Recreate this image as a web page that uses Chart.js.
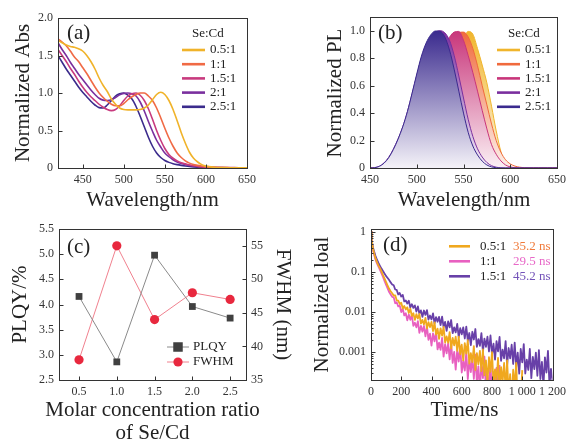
<!DOCTYPE html>
<html><head><meta charset="utf-8">
<script src="https://cdn.jsdelivr.net/npm/chart.js@4.4.1/dist/chart.umd.min.js"></script>
<style>
html,body{margin:0;padding:0;background:#fff;}
#wrap{position:relative;width:571px;height:443px;overflow:hidden;background:#fff;}
canvas{position:absolute;left:0;top:0;}
</style></head><body>
<div id="wrap">
<canvas id="cA" width="571" height="443"></canvas>
<canvas id="cB" width="571" height="443"></canvas>
<canvas id="cC" width="571" height="443"></canvas>
<canvas id="cD" width="571" height="443"></canvas>
</div>
<script>
// ---------------- DATA ----------------
const seriesNames = ['0.5:1','1:1','1.5:1','2:1','2.5:1'];
const legendTitle = 'Se:Cd';

// (a) absorption
const absWavelengths = [420,425,430,435,440,445,450,455,460,465,470,475,480,485,490,495,500,505,510,515,520,525,530,535,540,545,550,555,560,565,570,575,580,585,590,595,600,610,620,630,640,650];
const abs05 = [1.70,1.67,1.64,1.62,1.61,1.59,1.56,1.50,1.42,1.32,1.20,1.10,1.02,0.92,0.85,0.80,0.78,0.775,0.775,0.775,0.78,0.80,0.84,0.91,0.98,1.01,0.98,0.90,0.78,0.63,0.47,0.33,0.21,0.13,0.08,0.045,0.025,0.01,0.005,0.003,0.002,0.001];
const abs10 = [1.72,1.68,1.63,1.56,1.48,1.42,1.34,1.26,1.17,1.08,1.00,0.94,0.89,0.85,0.83,0.83,0.86,0.91,0.95,0.98,1.00,1.00,0.96,0.90,0.80,0.67,0.53,0.40,0.29,0.20,0.14,0.095,0.065,0.045,0.035,0.025,0.018,0.01,0.006,0.004,0.002,0.001];
const abs15 = [1.58,1.50,1.42,1.33,1.25,1.16,1.08,1.01,0.95,0.90,0.85,0.81,0.78,0.765,0.78,0.83,0.90,0.96,0.99,1.00,0.97,0.90,0.79,0.65,0.50,0.37,0.26,0.18,0.13,0.095,0.07,0.055,0.04,0.03,0.022,0.016,0.012,0.008,0.006,0.005,0.004,0.003];
const abs20 = [1.67,1.58,1.50,1.41,1.33,1.25,1.18,1.11,1.04,0.98,0.93,0.905,0.90,0.91,0.94,0.975,0.995,1.00,0.99,0.96,0.88,0.76,0.62,0.49,0.37,0.28,0.20,0.15,0.11,0.08,0.06,0.045,0.035,0.027,0.02,0.015,0.011,0.007,0.005,0.004,0.003,0.002];
const abs25 = [1.50,1.41,1.32,1.24,1.16,1.08,1.01,0.95,0.89,0.84,0.805,0.80,0.84,0.90,0.96,0.99,1.00,0.97,0.92,0.82,0.69,0.55,0.41,0.29,0.20,0.14,0.10,0.075,0.058,0.045,0.035,0.027,0.02,0.015,0.011,0.008,0.006,0.004,0.003,0.002,0.002,0.001];
const absXTicks = [450,500,550,600,650];
const absXTickLabels = ['450','500','550','600','650'];
const absYTicks = [0,0.5,1.0,1.5,2.0];
const absYTickLabels = ['0','0.5','1.0','1.5','2.0'];

// (b) photoluminescence
const plWavelengths = [450,455,460,465,470,475,480,485,490,495,500,505,510,515,520,525,530,535,540,545,550,555,560,565,570,575,580,585,590,595,600,605,610,615,620,625,630,635,640,645,650];
const pl05 = [0,0,0,0,0, 0,0,0,0,0, 0,0,0,0.012,0.045, 0.11,0.23,0.40,0.60,0.80, 0.93,0.995,0.975,0.87,0.75, 0.62,0.45,0.27,0.12,0.035, 0.01,0.002,0,0,0, 0,0,0,0,0,0];
const pl10 = [0,0,0,0,0, 0,0.001,0.008,0.026,0.059, 0.111,0.18,0.264,0.366,0.491, 0.629,0.763,0.87,0.946,0.987, 0.99,0.955,0.87,0.745,0.60, 0.46,0.32,0.20,0.115,0.06, 0.03,0.014,0.006,0.002,0, 0,0,0,0,0,0];
const pl15 = [0,0,0,0,0, 0.001,0.009,0.028,0.063,0.117, 0.187,0.273,0.377,0.505,0.643, 0.776,0.88,0.952,0.99,0.995, 0.93,0.82,0.695,0.56,0.42, 0.285,0.17,0.10,0.052,0.022, 0.008,0.002,0,0,0, 0,0,0,0,0,0];
const pl20 = [0,0.003,0.013,0.037,0.078, 0.138,0.212,0.30,0.41,0.54, 0.675,0.80,0.895,0.955,0.99, 1.00,0.985,0.93,0.82,0.67, 0.51,0.355,0.23,0.14,0.08, 0.04,0.017,0.006,0.001,0, 0,0,0,0,0, 0,0,0,0,0,0];
const pl25 = [0,0.002,0.012,0.035,0.075, 0.135,0.21,0.30,0.41,0.545, 0.685,0.815,0.91,0.97,0.998, 0.995,0.955,0.86,0.72,0.56, 0.40,0.26,0.16,0.095,0.05, 0.022,0.008,0.002,0,0, 0,0,0,0,0, 0,0,0,0,0,0];
const plXTicks = [450,500,550,600,650];
const plXTickLabels = ['450','500','550','600','650'];
const plYTicks = [0,0.2,0.4,0.6,0.8,1.0];
const plYTickLabels = ['0','0.2','0.4','0.6','0.8','1.0'];

// (c) PLQY and FWHM
const ratios = [0.5,1.0,1.5,2.0,2.5];
const plqy = [4.16,2.86,4.98,3.96,3.73];
const fwhm = [38,55,44,48,47];
const ratioTicks = [0.5,1.0,1.5,2.0,2.5];
const ratioTickLabels = ['0.5','1.0','1.5','2.0','2.5'];
const plqyTicks = [2.5,3.0,3.5,4.0,4.5,5.0,5.5];
const plqyTickLabels = ['2.5','3.0','3.5','4.0','4.5','5.0','5.5'];
const fwhmTicks = [35,40,45,50,55];
const fwhmTickLabels = ['35','40','45','50','55'];
const qyNames = ['PLQY','FWHM'];

// (d) decay
const decayTimes = [0,5,10,15,20,30,40,50,60,70,80,90,100,110,120,130,140,150,160,170,180,190,200,210,220,230,240,250,260,270,280,290,300,310,320,330,340,350,360,370,380,390,400,410,420,430,440,450,460,470,480,490,500,510,520,530,540,550,560,570,580,590,600,610,620,630,640,650,660,670,680,690,700,710,720,730,740,750,760,770,780,790,800,810,820,830,840,850,860,870,880,890,900,910,920,930,940,950,960,970,980,990,1000,1010,1020,1030,1040,1050,1060,1070,1080,1090,1100,1110,1120,1130,1140,1150,1160,1170,1180,1190,1200];
const decay05 = [1,0.6,0.447,0.355,0.295,0.219,0.174,0.145,0.123,0.102,0.083,0.068,0.056,0.046,0.038,0.033,0.0295,
0.0259,0.0262,0.0197,0.0193,0.0159,0.017,0.0122,0.0141,0.0116,0.0131,0.00948,0.0121,0.00798,0.00935,0.00635,0.00885,
0.00687,0.00895,0.00512,0.00635,0.00492,0.00713,0.00388,0.00562,0.0042,0.00565,0.00332,0.00553,0.00274,0.00384,0.00212,0.00392,
0.00258,0.00425,0.00173,0.00246,0.00171,0.00314,0.00122,0.00225,0.00147,0.00241,0.00107,0.00242,0.000879,0.00152,0.000617,0.00167,
0.000914,0.00197,0.000513,0.000938,0.000557,0.00141,0.000355,0.000935,0.000492,0.00107,0.000334,0.00116,0.000261,0.000617,0.000171,0.000741,
0.00032,0.001,0.000158,0.000367,0.000187,0.00071,0.000106,0.000419,0.000179,0.000533,0.000114,0.000618,0.0000887,0.00028,0.0000542,0.000361,
0.00013,0.000538,0.0000541,0.00016,0.0000695,0.000353,
null,null,null,null,null,null,null,null,null,null,null,null,null,null,null,null,null,null,null,null];
const decay10 = [1,0.575,0.417,0.331,0.275,0.204,0.162,0.135,0.112,0.091,0.074,0.059,0.048,0.039,0.0316,0.0275,0.024,
0.0233,0.0166,0.0175,0.0138,0.0145,0.01,0.0122,0.00822,0.00933,0.00622,0.00865,0.0064,0.00841,0.00452,0.00542,0.00415,
0.00589,0.00301,0.00452,0.00323,0.0045,0.00246,0.00437,0.00201,0.00288,0.00145,0.00294,0.00185,0.00321,0.00116,0.00171,0.00114,
0.00225,0.000771,0.00157,0.000929,0.00164,0.000656,0.00168,0.000533,0.00101,0.000363,0.00114,0.000579,0.00139,0.000308,0.000611,0.000344,
0.000979,0.000211,0.000641,0.000316,0.000769,0.000214,0.000855,0.000169,0.000439,0.000108,0.000542,0.000222,0.000762,0.000101,0.000262,0.000124,
0.000528,0.000069,0.000308,0.000124,0.000403,0.0000766,0.000475,
null,null,null,null,null,null,null,null,null,null,null,null,null,null,null,null,null,null,null,null,null,null,null,null,null,null,null,null,null,null,null,null,null,null,null];
const decay15 = [1,0.63,0.48,0.39,0.33,0.25,0.2,0.166,0.141,0.12,0.105,0.091,0.079,0.071,0.063,0.055,0.049,
0.0467,0.0366,0.0357,0.0275,0.0299,0.0244,0.0267,0.0184,0.0194,0.0163,0.0192,0.013,0.0157,0.0127,0.0147,0.0103,
0.0138,0.00908,0.011,0.0076,0.0109,0.00847,0.0112,0.00649,0.00818,0.00655,0.00925,0.00522,0.00748,0.00573,0.0076,0.0047,
0.00769,0.0042,0.0057,0.00339,0.00586,0.00413,0.00631,0.00296,0.00415,0.00309,0.00508,0.00237,0.00394,0.00277,0.00415,0.00218,
0.00433,0.00192,0.00299,0.00148,0.00321,0.00206,0.00376,0.00134,0.00211,0.00143,0.00297,0.00104,0.00217,0.00135,0.00241,0.00103,
0.00259,0.000867,0.00161,0.000647,0.00188,0.00104,0.00238,0.000605,0.00115,0.000698,0.00187,0.000468,0.00126,0.000697,0.00152,0.000502,
0.00172,0.000413,0.000966,0.000289,0.00119,0.00055,0.00158,0.000291,0.000649,0.000356,0.00119,0.000223,0.00076,0.000372,0.000968,0.000255,
0.00112,0.000212,0.00057,0.000143,0.000736,0.000307,0.00107,0.000149,0.000378,0.000191];
const decayNames = ['0.5:1','1:1','1.5:1'];
const decayLifetimes = ['35.2 ns','29.5 ns','45.2 ns'];
const decayXTicks = [0,200,400,600,800,1000,1200];
const decayXTickLabels = ['0','200','400','600','800','1 000','1 200'];
const decayYTicks = [1,0.1,0.01,0.001];
const decayYTickLabels = ['1','0.1','0.01','0.001'];
const decayYMinorTicks = [0.0003,0.0004,0.0005,0.0006,0.0007,0.0008,0.0009,0.002,0.003,0.004,0.005,0.006,0.007,0.008,0.009,0.02,0.03,0.04,0.05,0.06,0.07,0.08,0.09,0.2,0.3,0.4,0.5,0.6,0.7,0.8,0.9];

// ---------------- STYLE ----------------
const SERIF = '"Liberation Serif","Times New Roman",serif';
Chart.defaults.font.family = SERIF;
Chart.defaults.color = '#333';
const W = 571, H = 443;
const TXT = '#222';
const absColors = ['#f0b32a','#f06a45','#c83a7e','#7a2f9e','#3b2b8c'];
const plColors  = ['#f0b52c','#f06a3c','#c8357a','#7a2e9e','#3a2a8e'];
const plLight   = ['#fdf6e4','#fdf0ea','#fbf0f4','#f6f0f8','#f4f2f8'];
const decayColors = ['#f0a81e','#e860c0','#6840a8'];
const decayLifeColors = ['#f07a3a','#e868c8','#7352b8'];

// ---------------- PLUGINS ----------------
const framePlugin = {
  id: 'frameTicks',
  afterDatasetsDraw(chart, args, opts) {
    const ctx = chart.ctx, a = chart.chartArea;
    ctx.save();
    ctx.strokeStyle = '#333';
    ctx.lineWidth = 1;
    const l = Math.round(a.left) + 0.5, t = Math.round(a.top) + 0.5;
    const r = Math.round(a.right) + 0.5, b = Math.round(a.bottom) + 0.5;
    ctx.strokeRect(l, t, r - l, b - t);
    (opts.axes || []).forEach(ax => {
      const s = chart.scales[ax.id];
      const draw = (v, len) => {
        const p = Math.round(s.getPixelForValue(v)) + 0.5;
        ctx.beginPath();
        if (ax.side === 'bottom') { ctx.moveTo(p, b); ctx.lineTo(p, b - len); }
        else if (ax.side === 'left') { ctx.moveTo(l, p); ctx.lineTo(l + len, p); }
        else { ctx.moveTo(r, p); ctx.lineTo(r - len, p); }
        ctx.stroke();
      };
      s.ticks.forEach(tk => draw(tk.value, 4));
      (ax.minor || []).forEach(v => draw(v, 2));
    });
    ctx.restore();
  }
};
const overlayPlugin = {
  id: 'overlay',
  afterDraw(chart, args, opts) {
    const ctx = chart.ctx;
    (opts.items || []).forEach(it => {
      ctx.save();
      if (it.type === 'text') {
        ctx.font = it.font; ctx.fillStyle = it.color || TXT;
        ctx.textAlign = it.align || 'left'; ctx.textBaseline = 'middle';
        ctx.translate(it.x, it.y); if (it.rot) ctx.rotate(it.rot);
        ctx.fillText(it.text, 0, 0);
      } else if (it.type === 'line') {
        ctx.strokeStyle = it.color; ctx.lineWidth = it.width;
        ctx.beginPath(); ctx.moveTo(it.x1, it.y); ctx.lineTo(it.x2, it.y); ctx.stroke();
      } else if (it.type === 'square') {
        ctx.fillStyle = it.color; ctx.fillRect(it.x - it.s/2, it.y - it.s/2, it.s, it.s);
      } else if (it.type === 'circle') {
        ctx.fillStyle = it.color; ctx.beginPath(); ctx.arc(it.x, it.y, it.r, 0, Math.PI*2); ctx.fill();
      }
      ctx.restore();
    });
  }
};

const F_TITLE = '21px ' + SERIF;
const F_LEG = '13px ' + SERIF;
const F_PANEL = '21px ' + SERIF;
const YW = 45, XH = 25;

function pad(l, t, r, b, rightW) {
  return {padding: {left: l - YW, top: t, right: W - r - (rightW || 0), bottom: H - b - XH}};
}
function xAxis(min, max, ticks, labels, type) {
  return {
    type: type || 'linear', min, max, position: 'bottom',
    grid: {display: false, drawTicks: false}, border: {display: false},
    ticks: {padding: 5, maxRotation: 0, autoSkip: false, font: {size: 12}, color: '#333',
      callback: (v, i) => labels[i]},
    afterBuildTicks: s => { s.ticks = ticks.map(v => ({value: v})); },
    afterFit: s => { s.height = XH; }
  };
}
function yAxis(min, max, ticks, labels, type, position, width) {
  return {
    type: type || 'linear', min, max, position: position || 'left',
    grid: {display: false, drawTicks: false}, border: {display: false},
    ticks: {padding: 5, autoSkip: false, font: {size: 12}, color: '#333',
      callback: (v, i) => labels[i]},
    afterBuildTicks: s => { s.ticks = ticks.map(v => ({value: v})); },
    afterFit: s => { s.width = width || YW; }
  };
}
function legendBlock(x0, lineX1, lineX2, textX, titleY, rowsY, colors) {
  const items = [{type: 'text', text: legendTitle, x: x0, y: titleY, font: F_LEG}];
  seriesNames.forEach((n, i) => {
    items.push({type: 'line', x1: lineX1, x2: lineX2, y: rowsY[i], color: colors[i], width: 2.6});
    items.push({type: 'text', text: n, x: textX, y: rowsY[i], font: F_LEG});
  });
  return items;
}
const common = {responsive: false, animation: false, devicePixelRatio: 1, events: []};

// ---------------- (a) ----------------
const absVals = [abs05, abs10, abs15, abs20, abs25];
new Chart(document.getElementById('cA'), {
  type: 'line',
  data: {datasets: absVals.map((vals, k) => ({
    label: seriesNames[k],
    data: absWavelengths.map((x, i) => ({x, y: vals[i]})),
    borderColor: absColors[k], borderWidth: 1.6, pointRadius: 0, fill: false,
    cubicInterpolationMode: 'monotone'
  }))},
  options: Object.assign({}, common, {
    layout: pad(58, 18, 247, 168),
    scales: {x: xAxis(420, 650, absXTicks, absXTickLabels), y: yAxis(0, 2.0, absYTicks, absYTickLabels)},
    plugins: {
      legend: {display: false}, tooltip: {enabled: false},
      frameTicks: {axes: [{id: 'x', side: 'bottom'}, {id: 'y', side: 'left'}]},
      overlay: {items: [
        {type: 'text', text: '(a)', x: 67, y: 33, font: F_PANEL},
        {type: 'text', text: 'Normalized Abs', x: 23, y: 93, rot: -Math.PI/2, align: 'center', font: F_TITLE},
        {type: 'text', text: 'Wavelength/nm', x: 152.5, y: 200, align: 'center', font: F_TITLE}
      ].concat(legendBlock(192, 182, 205, 210, 34, [50, 64.2, 78.4, 92.6, 106.8], absColors))}
    }
  }),
  plugins: [framePlugin, overlayPlugin]
});

// ---------------- (b) ----------------
const plVals = [pl05, pl10, pl15, pl20, pl25];
function plGrad(k) {
  return (c) => {
    const ch = c.chart, ys = ch.scales.y;
    if (!ch.chartArea || !ys) return plColors[k];
    const g = ch.ctx.createLinearGradient(0, ys.getPixelForValue(1), 0, ys.getPixelForValue(0));
    g.addColorStop(0, plColors[k]); g.addColorStop(1, plLight[k]);
    return g;
  };
}
new Chart(document.getElementById('cB'), {
  type: 'line',
  data: {datasets: plVals.map((vals, k) => ({
    label: seriesNames[k],
    data: plWavelengths.map((x, i) => ({x, y: vals[i]})),
    borderColor: plColors[k], borderWidth: 1, pointRadius: 0,
    fill: 'origin', backgroundColor: plGrad(k), order: 4 - k,
    cubicInterpolationMode: 'monotone'
  }))},
  options: Object.assign({}, common, {
    layout: pad(370, 17, 558, 168),
    scales: {x: xAxis(450, 650, plXTicks, plXTickLabels), y: yAxis(0, 1.1, plYTicks, plYTickLabels)},
    plugins: {
      legend: {display: false}, tooltip: {enabled: false},
      filler: {drawTime: 'beforeDatasetDraw'},
      frameTicks: {axes: [{id: 'x', side: 'bottom'}, {id: 'y', side: 'left'}]},
      overlay: {items: [
        {type: 'text', text: '(b)', x: 378, y: 33, font: F_PANEL},
        {type: 'text', text: 'Normalized PL', x: 335, y: 93, rot: -Math.PI/2, align: 'center', font: F_TITLE},
        {type: 'text', text: 'Wavelength/nm', x: 464, y: 200, align: 'center', font: F_TITLE}
      ].concat(legendBlock(508, 497, 520, 525, 34, [50, 64.2, 78.4, 92.6, 106.8], plColors))}
    }
  }),
  plugins: [framePlugin, overlayPlugin]
});

// ---------------- (c) ----------------
new Chart(document.getElementById('cC'), {
  type: 'line',
  data: {datasets: [
    {label: qyNames[0], yAxisID: 'y', data: ratios.map((x, i) => ({x, y: plqy[i]})),
     borderColor: '#8a8a8a', borderWidth: 1, pointStyle: 'rect', pointRadius: 4.8,
     pointBackgroundColor: '#404040', pointBorderColor: '#404040', pointBorderWidth: 0, tension: 0},
    {label: qyNames[1], yAxisID: 'y1', data: ratios.map((x, i) => ({x, y: fwhm[i]})),
     borderColor: '#f0808e', borderWidth: 1, pointStyle: 'circle', pointRadius: 4.6,
     pointBackgroundColor: '#e8283e', pointBorderColor: '#e8283e', pointBorderWidth: 0, tension: 0}
  ]},
  options: Object.assign({}, common, {
    layout: pad(59, 229, 246, 380, 30),
    scales: {
      x: xAxis(0.235, 2.71, ratioTicks, ratioTickLabels),
      y: yAxis(2.5, 5.5, plqyTicks, plqyTickLabels),
      y1: yAxis(35, 57.5, fwhmTicks, fwhmTickLabels, 'linear', 'right', 30)
    },
    plugins: {
      legend: {display: false}, tooltip: {enabled: false},
      frameTicks: {axes: [{id: 'x', side: 'bottom'}, {id: 'y', side: 'left'}, {id: 'y1', side: 'right'}]},
      overlay: {items: [
        {type: 'text', text: '(c)', x: 67, y: 247, font: F_PANEL},
        {type: 'text', text: 'PLQY/%', x: 20, y: 304.5, rot: -Math.PI/2, align: 'center', font: F_TITLE},
        {type: 'text', text: 'FWHM (nm)', x: 283, y: 304.5, rot: Math.PI/2, align: 'center', font: F_TITLE},
        {type: 'text', text: 'Molar concentration ratio', x: 152.5, y: 410, align: 'center', font: F_TITLE},
        {type: 'text', text: 'of Se/Cd', x: 152.5, y: 433, align: 'center', font: F_TITLE},
        {type: 'line', x1: 167, x2: 189, y: 347, color: '#8a8a8a', width: 1},
        {type: 'square', x: 178, y: 347, s: 9.5, color: '#404040'},
        {type: 'text', text: qyNames[0], x: 193, y: 347, font: F_LEG},
        {type: 'line', x1: 167, x2: 189, y: 362, color: '#f0808e', width: 1},
        {type: 'circle', x: 178, y: 362, r: 4.6, color: '#e8283e'},
        {type: 'text', text: qyNames[1], x: 193, y: 362, font: F_LEG}
      ]}
    }
  }),
  plugins: [framePlugin, overlayPlugin]
});

// ---------------- (d) ----------------
const decayVals = [decay05, decay10, decay15];
const decayItems = [
  {type: 'text', text: '(d)', x: 383, y: 245, font: F_PANEL},
  {type: 'text', text: 'Normalized loal', x: 322, y: 304.5, rot: -Math.PI/2, align: 'center', font: F_TITLE},
  {type: 'text', text: 'Time/ns', x: 464.5, y: 410, align: 'center', font: F_TITLE}
];
const decayRows = [246.3, 261.3, 276.3];
decayNames.forEach((n, i) => {
  decayItems.push({type: 'line', x1: 449, x2: 470, y: decayRows[i], color: decayColors[i], width: 2.6});
  decayItems.push({type: 'text', text: n, x: 480, y: decayRows[i], font: F_LEG});
  decayItems.push({type: 'text', text: decayLifetimes[i], x: 513, y: decayRows[i], font: F_LEG, color: decayLifeColors[i]});
});
new Chart(document.getElementById('cD'), {
  type: 'line',
  data: {datasets: decayVals.map((vals, k) => ({
    label: decayNames[k],
    data: decayTimes.map((x, i) => ({x, y: vals[i] === undefined ? null : vals[i]})),
    borderColor: decayColors[k], borderWidth: 1.8, borderJoinStyle: 'round',
    pointRadius: 0, fill: false, tension: 0, spanGaps: false
  }))},
  options: Object.assign({}, common, {
    layout: pad(371, 229, 558, 380),
    scales: {
      x: xAxis(0, 1200, decayXTicks, decayXTickLabels),
      y: yAxis(0.0002, 1.19, decayYTicks, decayYTickLabels, 'logarithmic')
    },
    plugins: {
      legend: {display: false}, tooltip: {enabled: false},
      frameTicks: {axes: [{id: 'x', side: 'bottom'}, {id: 'y', side: 'left', minor: decayYMinorTicks}]},
      overlay: {items: decayItems}
    }
  }),
  plugins: [framePlugin, overlayPlugin]
});
</script>
</body></html>
